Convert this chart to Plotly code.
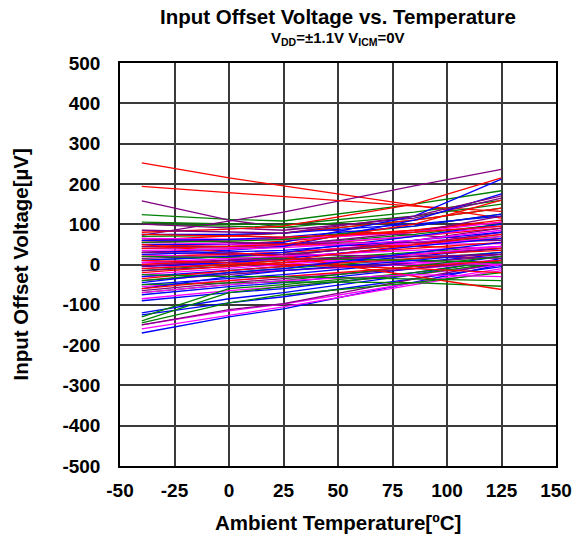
import plotly.graph_objects as go

temps = [-40, 0, 25, 85, 125]

red_lines = [
    [252, 215, 195, 148, 115],
    [194, 178, 168, 145, 132],
    [80, 88, 95, 150, 215],
    [60, 70, 78, 110, 140],
    [55, 60, 65, 85, 105],
    [45, 50, 58, 85, 110],
    [30, 40, 45, 70, 90],
    [20, 25, 30, 50, 65],
    [65, 55, 50, 45, 40],
    [0, 10, 18, 40, 55],
    [-20, -5, 5, 25, 35],
    [-35, -15, -5, 15, 25],
    [50, 30, 20, -30, -62],
    [10, 5, 0, -10, -20],
    [-60, -40, -30, -5, 10],
    [75, 70, 68, 80, 95],
    [40, 45, 50, 100, 160],
    [-10, 0, 10, 50, 75],
]

green_lines = [
    [124, 112, 108, 150, 183],
    [105, 100, 98, 130, 159],
    [100, 95, 92, 120, 150],
    [70, 72, 78, 110, 140],
    [40, 42, 48, 75, 100],
    [10, 20, 25, 50, 70],
    [-15, 0, 10, 30, 45],
    [-40, -20, -10, 15, 30],
    [-130, -60, -50, -20, 10],
    [-140, -70, -55, -25, 5],
    [-145, -95, -75, -45, -20],
    [-50, -45, -43, -45, -54],
    [20, 18, 15, 10, 5],
    [55, 58, 62, 95, 125],
    [-70, -50, -40, -5, 20],
    [-25, -30, -30, -35, -40],
]

blue_lines = [
    [-170, -130, -110, -45, 0],
    [-125, -95, -80, -35, -5],
    [-120, -85, -70, -25, 15],
    [-90, -70, -60, -20, 10],
    [-75, -55, -45, -10, 20],
    [-50, -35, -25, 5, 25],
    [-30, -15, -5, 20, 40],
    [75, 75, 78, 100, 120],
    [50, 50, 55, 120, 212],
    [30, 35, 45, 110, 175],
    [10, 20, 30, 70, 100],
    [-5, 5, 15, 45, 65],
    [-60, -30, -15, 10, 30],
    [60, 62, 68, 95, 125],
    [25, 30, 35, 60, 80],
    [-45, -20, -10, 30, 55],
]

magenta_lines = [
    [-160, -125, -105, -50, -15],
    [-150, -115, -98, -45, -10],
    [-85, -65, -55, -25, 0],
    [-55, -40, -30, -10, 5],
    [-30, -20, -15, 0, 10],
    [0, 5, 10, 25, 40],
    [20, 25, 30, 55, 75],
    [40, 42, 48, 70, 95],
    [55, 50, 48, 50, 52],
    [25, 15, 10, 5, 0],
    [-10, 5, 15, 45, 70],
    [-25, -10, 0, 25, 45],
    [65, 62, 62, 80, 105],
    [5, 15, 20, 35, 45],
    [-70, -50, -40, -25, -30],
    [35, 38, 42, 60, 85],
]

purple_lines = [
    [158, 110, 92, 72, 60],
    [72, 108, 130, 195, 236],
    [100, 90, 85, 115, 165],
    [-150, -112, -97, -35, 5],
    [-65, -45, -35, -10, 10],
    [-40, -25, -15, 5, 20],
    [-15, -5, 5, 25, 40],
    [15, 20, 25, 50, 80],
    [45, 45, 48, 80, 120],
    [30, 28, 25, 20, 15],
    [60, 55, 52, 55, 60],
    [-5, 10, 20, 60, 90],
    [85, 80, 78, 120, 170],
    [5, 10, 12, 20, 25],
]

x_ticks = [-50, -25, 0, 25, 50, 75, 100, 125, 150]
y_ticks = [500, 400, 300, 200, 100, 0, -100, -200, -300, -400, -500]

groups = [
    (green_lines, "#008000"),
    (blue_lines, "#0000FF"),
    (purple_lines, "#800080"),
    (magenta_lines, "#FF00FF"),
    (red_lines, "#FF0000"),
]

fig = go.Figure()
n_max = max(len(g[0]) for g in groups)
for i in range(n_max):
    for lines, color in groups:
        if i < len(lines):
            fig.add_trace(go.Scatter(
                x=temps, y=lines[i], mode="lines",
                line=dict(color=color, width=1.3),
                showlegend=False, hoverinfo="skip"))

font_family = "Liberation Sans, Arial, sans-serif"

fig.update_layout(
    width=584, height=545,
    margin=dict(l=120, r=24, t=63, b=79),
    paper_bgcolor="white", plot_bgcolor="white",
    font=dict(family=font_family, color="black"),
    showlegend=False,
)

fig.update_xaxes(
    range=[-50, 150], tickvals=x_ticks,
    ticktext=[f"<b>{v}</b>" for v in x_ticks],
    tickfont=dict(size=19, family=font_family),
    showgrid=True, gridcolor="#3a3a3a", gridwidth=1.5,
    showline=True, linecolor="black", linewidth=1.5, mirror=True,
    zeroline=False, ticks="", ticklabelstandoff=6,
)
fig.update_yaxes(
    range=[-500, 500], tickvals=y_ticks,
    ticktext=[f"<b>{v}</b>" for v in y_ticks],
    tickfont=dict(size=19, family=font_family),
    showgrid=True, gridcolor="#3a3a3a", gridwidth=1.5,
    showline=True, linecolor="black", linewidth=1.5, mirror=True,
    zeroline=False, ticks="", ticklabelstandoff=14,
)

fig.add_annotation(
    text="<b>Input Offset Voltage vs. Temperature</b>",
    xref="paper", yref="paper", x=0.5, y=1, xanchor="center", yanchor="middle",
    yshift=47, showarrow=False, font=dict(size=20.5, family=font_family))
fig.add_annotation(
    text="<b>V<sub>DD</sub>=±1.1V V<sub>ICM</sub>=0V</b>",
    xref="paper", yref="paper", x=0.5, y=1, xanchor="center", yanchor="middle",
    yshift=25, showarrow=False, font=dict(size=15, family=font_family))
fig.add_annotation(
    text="<b>Ambient Temperature[ºC]</b>",
    xref="paper", yref="paper", x=0.5, y=0, xanchor="center", yanchor="middle",
    yshift=-56, showarrow=False, font=dict(size=20.5, family=font_family))
fig.add_annotation(
    text="<b>Input Offset Voltage[µV]</b>",
    xref="paper", yref="paper", x=0, y=0.5, xanchor="center", yanchor="middle",
    xshift=-100, textangle=-90, showarrow=False,
    font=dict(size=20.5, family=font_family))

fig.write_html("out.html")
